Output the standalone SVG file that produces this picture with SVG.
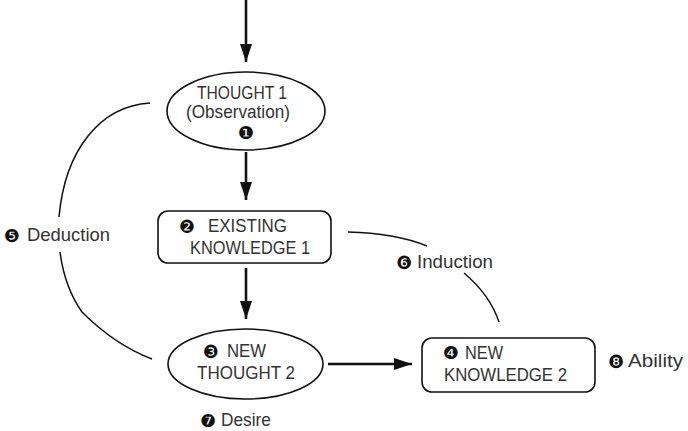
<svg xmlns="http://www.w3.org/2000/svg" width="688" height="431" viewBox="0 0 688 431">
  <style>
    .shape { fill: #fff; stroke: #111; stroke-width: 1.6; }
    .curve { fill: none; stroke: #111; stroke-width: 1.5; }
    .flow { fill: none; stroke: #111; stroke-width: 2.6; }
    .lbl { font-family: "Liberation Sans", Arial, sans-serif; font-size: 19px; fill: #333; }
    .num { font-family: "DejaVu Sans", sans-serif; font-size: 18px; fill: #111; }
  </style>
  <defs>
    <marker id="head" viewBox="0 0 18 12" refX="18" refY="6" markerWidth="18" markerHeight="12" markerUnits="userSpaceOnUse" orient="auto">
      <path d="M0,0 L18,6 L0,12 Z" fill="#111"/>
    </marker>
  </defs>

  <g id="connectors">
    <line class="flow" x1="246" y1="0" x2="246" y2="62" marker-end="url(#head)"/>
    <line class="flow" x1="246" y1="152" x2="246" y2="200" marker-end="url(#head)"/>
    <line class="flow" x1="246" y1="268" x2="246" y2="319" marker-end="url(#head)"/>
    <line class="flow" x1="328" y1="364" x2="412" y2="364" marker-end="url(#head)"/>
    <!-- deduction arc, split around its label -->
    <path class="curve" d="M150,103 C100,106 65,150 59,217"/>
    <path class="curve" d="M60,252 C63,275 70,295 82,312 Q115,345 152,359"/>
    <!-- induction arc, split around its label -->
    <path class="curve" d="M348,232 Q395,233 427,246"/>
    <path class="curve" d="M464,273 Q490,295 499,322"/>
  </g>

  <g id="thought1">
    <ellipse class="shape" cx="246" cy="111" rx="79" ry="39"/>
    <text class="lbl" x="197" y="99" textLength="90" lengthAdjust="spacingAndGlyphs">THOUGHT 1</text>
    <text class="lbl" x="186" y="118" textLength="104" lengthAdjust="spacingAndGlyphs">(Observation)</text>
    <text class="num" x="246" y="139" text-anchor="middle">❶</text>
  </g>

  <g id="existing-knowledge1">
    <rect class="shape" x="158" y="211" width="173" height="52" rx="10"/>
    <text class="num" x="179" y="233">❷</text>
    <text class="lbl" x="208" y="232" textLength="79" lengthAdjust="spacingAndGlyphs">EXISTING</text>
    <text class="lbl" x="190" y="254" textLength="120" lengthAdjust="spacingAndGlyphs">KNOWLEDGE 1</text>
  </g>

  <g id="new-thought2">
    <ellipse class="shape" cx="245.5" cy="364" rx="77.5" ry="35"/>
    <text class="num" x="203" y="358">❸</text>
    <text class="lbl" x="227" y="357" textLength="39" lengthAdjust="spacingAndGlyphs">NEW</text>
    <text class="lbl" x="197" y="379" textLength="98" lengthAdjust="spacingAndGlyphs">THOUGHT 2</text>
  </g>

  <g id="new-knowledge2">
    <rect class="shape" x="422" y="338" width="173" height="54" rx="10"/>
    <text class="num" x="443" y="359">❹</text>
    <text class="lbl" x="465" y="359" textLength="38" lengthAdjust="spacingAndGlyphs">NEW</text>
    <text class="lbl" x="444" y="381" textLength="123" lengthAdjust="spacingAndGlyphs">KNOWLEDGE 2</text>
  </g>

  <g id="deduction">
    <text class="num" x="4" y="242">❺</text>
    <text class="lbl" x="27" y="241" textLength="83" lengthAdjust="spacingAndGlyphs">Deduction</text>
  </g>

  <g id="induction">
    <text class="num" x="396" y="269">❻</text>
    <text class="lbl" x="417" y="268" textLength="76" lengthAdjust="spacingAndGlyphs">Induction</text>
  </g>

  <g id="desire">
    <text class="num" x="200" y="427">❼</text>
    <text class="lbl" x="221" y="426" textLength="50" lengthAdjust="spacingAndGlyphs">Desire</text>
  </g>

  <g id="ability">
    <text class="num" x="608" y="368">❽</text>
    <text class="lbl" x="628" y="367" textLength="55" lengthAdjust="spacingAndGlyphs">Ability</text>
  </g>
</svg>
